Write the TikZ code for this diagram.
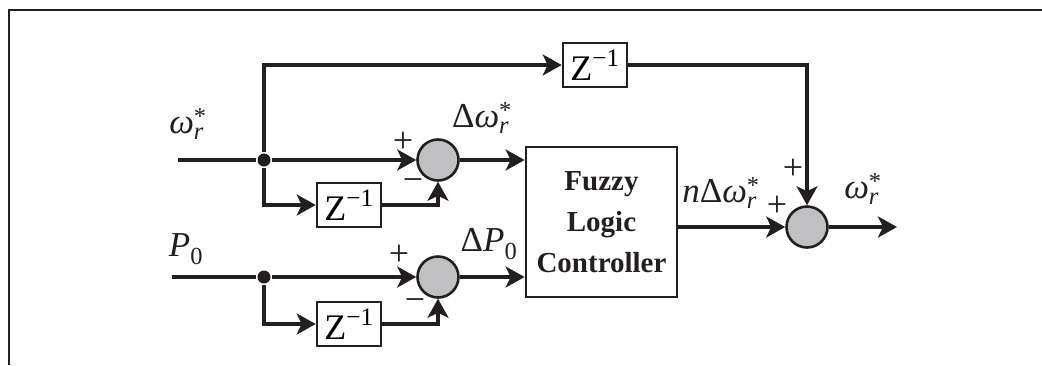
\documentclass[tikz,border=0pt]{standalone}
\usepackage{amsmath}
\usepackage{fontspec}
\setmainfont{Liberation Serif}
\usetikzlibrary{arrows.meta,calc}
\newcommand{\mygw}{\text{\itshape ω}}
\newcommand{\myr}{\text{\itshape r}}
\newcommand{\myast}{\text{*}}
\newcommand{\myzinv}{$\text{Z}^{\text{−1}}$}
\definecolor{ink}{RGB}{35,31,32}
\definecolor{sumgray}{RGB}{192,192,194}
\begin{document}
\begin{tikzpicture}[x=1pt,y=-1pt,line width=3.2pt,draw=ink,
  >={Stealth[length=19pt,width=21pt,inset=5pt]},
  sumnode/.style={circle,draw=ink,fill=sumgray,line width=2.6pt,minimum size=41pt,inner sep=0pt},
  delaybox/.style={draw=ink,line width=2.6pt,minimum width=64pt,minimum height=44pt,inner sep=0pt,font=\fontsize{36}{38}\selectfont},
  lbl/.style={font=\fontsize{35}{38}\selectfont,inner sep=0pt,text=ink},
  sgn/.style={font=\fontsize{36}{38}\selectfont,inner sep=0pt,text=ink},
  jdot/.style={circle,fill=ink,minimum size=13pt,inner sep=0pt},
  flcbox/.style={draw=ink,line width=2.8pt,minimum width=151pt,minimum height=150pt,inner sep=0pt,align=center,font=\fontsize{29}{41}\selectfont\bfseries,text=ink}]
\useasboundingbox (0,0) rectangle (1042,365);
% frame
\draw[line width=2.6pt] (9,365) -- (9,10) -- (1042,10);
% nodes
\coordinate (in1) at (178,160);
\coordinate (in2) at (172,277);
\node[jdot] (j1) at (264,160) {};
\node[jdot] (j2) at (264,277) {};
\node[sumnode] (s1) at (438,160) {};
\node[sumnode] (s2) at (438,277) {};
\node[sumnode] (s3) at (807,227) {};
\node[delaybox] (zb1) at (349,205) {\myzinv};
\node[delaybox] (zb2) at (349,324) {\myzinv};
\node[delaybox] (zt) at (595,65) {\myzinv};
\node[flcbox] (flc) at (601.5,222) {Fuzzy\\Logic\\Controller};
\coordinate (out) at (897,227);
% connectors
\draw (in1) -- (j1);
\draw[->] (j1) -- (s1);
\draw[->] (j1) |- (zb1);
\draw[->] (zb1.east) -| (s1.south);
\draw[->] (j1) |- (zt);
\draw[->] (zt.east) -| (s3.north);
\draw (in2) -- (j2);
\draw[->] (j2) -- (s2);
\draw[->] (j2) |- (zb2);
\draw[->] (zb2.east) -| (s2.south);
\draw[->] (s1) -- (s1 -| flc.west);
\draw[->] (s2) -- (s2 -| flc.west);
\draw[->] (flc.east |- s3) -- (s3);
\draw[->] (s3) -- (out);
% labels
\node[lbl] (l1) at (188,124) {$\mygw_{\myr}^{\myast}$};
\node[lbl] (l2) at (482,118) {$\text{Δ}\mygw_{\myr}^{\myast}$};
\node[lbl] (l3) at (186,249) {$\text{\itshape P}_{\text{0}}$};
\node[lbl] (l4) at (489,244) {$\text{Δ}\text{\itshape P}_{\text{0}}$};
\node[lbl] (l5) at (721,193) {$\text{\itshape n}\text{Δ}\mygw_{\myr}^{\myast}$};
\node[lbl] (l6) at (863,189) {$\mygw_{\myr}^{\myast}$};
% signs
\node[sgn] (p1) at (403,142) {+};
\node[sgn] (m1) at (413,185) {−};
\node[sgn] (p2) at (399,255) {+};
\node[sgn] (m2) at (415,305) {−};
\node[sgn] (p3) at (793,169) {+};
\node[sgn] (p4) at (777,206) {+};
\end{tikzpicture}
\end{document}
